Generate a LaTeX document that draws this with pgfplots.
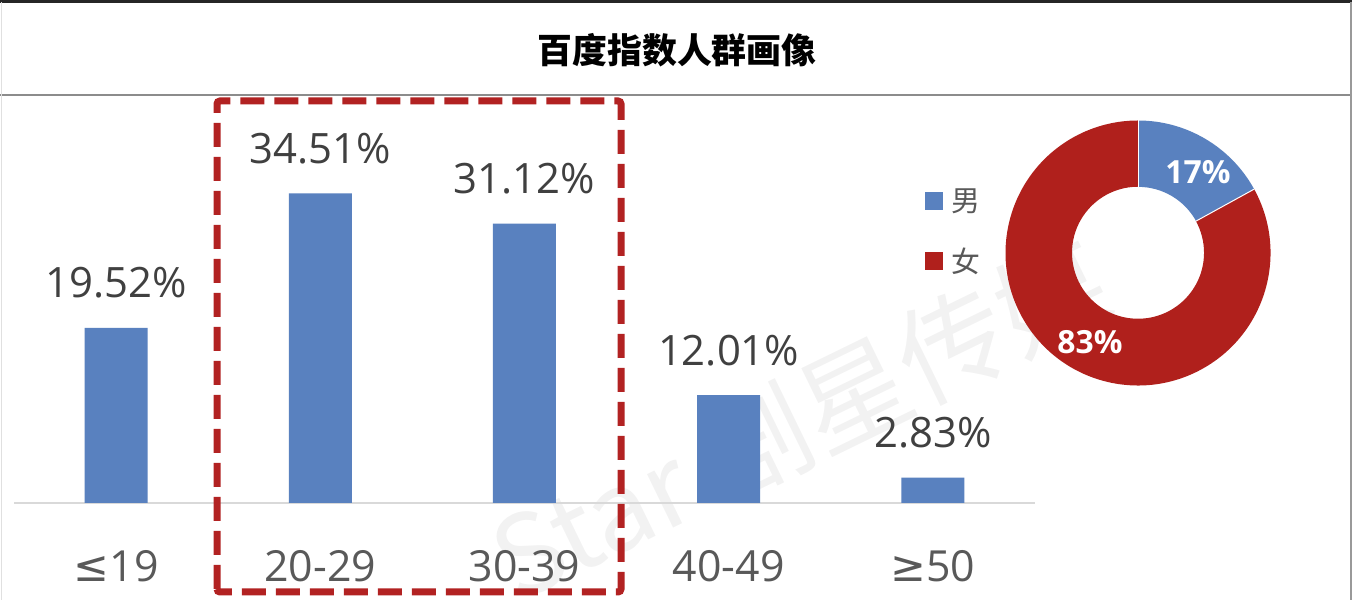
\documentclass[border=0pt]{standalone}
\usepackage{pgfplots}
\pgfplotsset{compat=1.18}
\usepackage{fontspec}
\setmainfont{Open Sans}
\newfontfamily\cjk{Noto Sans CJK SC}
\newfontfamily\dv{DejaVu Sans}

\definecolor{barblue}{RGB}{89,129,191}
\definecolor{donutred}{RGB}{176,32,28}
\definecolor{boxred}{RGB}{178,34,34}
\definecolor{valgray}{RGB}{64,64,64}
\definecolor{labgray}{RGB}{89,89,89}

% age groups, share in %
\pgfplotstableread{
idx share
0 19.52
1 34.51
2 31.12
3 12.01
4 2.83
}\agedata

% gender shares in %
\def\male{17}
\def\female{83}

\begin{document}
\begin{tikzpicture}[x=1bp,y=1bp]
\path[use as bounding box] (0,0) rectangle (1352,600);
\fill[white] (0,0) rectangle (1352,600);

% watermark
\node[rotate=26, opacity=0.05, text=black, font=\cjk\fontsize{110}{112}\selectfont]
  at (800,180) {\textit{Star} 剧星传媒};

% header
\draw[line width=3bp, black!85] (0,598.5) -- (1352,598.5);
\draw[line width=2bp, black!45] (0,505) -- (1352,505);
\draw[line width=1bp, black!12] (1.5,0) -- (1.5,598);
\draw[line width=2bp, black!40] (1350.5,0) -- (1350.5,598);
\node[font=\cjk\bfseries\fontsize{35}{40}\selectfont, text=black] at (677,550) {百度指数人群画像};

% bar chart
\begin{axis}[
  at={(14bp,97bp)}, anchor=south west,
  width=1021bp, height=359bp, scale only axis,
  xmin=-0.5, xmax=4.5, ymin=0, ymax=40,
  ybar, bar width=63bp,
  axis x line=bottom, hide y axis,
  x axis line style={draw=black!15, line width=2bp, -},
  xtick={0,1,2,3,4},
  xticklabels={{\dv ≤}19, 20-29, 30-39, 40-49, {\dv ≥}50},
  major tick length=0pt,
  xticklabel style={anchor=center, yshift=-63bp, text=labgray,
    font=\fontsize{43}{46}\selectfont},
  /pgf/number format/assume math mode=true,
  nodes near coords={\pgfmathprintnumber[fixed, fixed zerofill, precision=2]{\pgfplotspointmeta}\%},
  nodes near coords style={anchor=center, yshift=45bp, text=valgray,
    font=\fontsize{42}{46}\selectfont},
  clip=false,
]
\addplot[fill=barblue, draw=none] table[x=idx, y=share] {\agedata};
\end{axis}

% highlight box round 20-29 and 30-39
\draw[boxred, line width=7bp, dash pattern=on 24bp off 10bp, rounded corners=3bp]
  (217,8) rectangle (621,499);

% donut chart
\begin{axis}[
  at={(1138bp,347bp)}, anchor=center,
  width=265bp, height=265bp, scale only axis,
  xmin=-1, xmax=1, ymin=-1, ymax=1,
  hide axis, clip=false,
]
\pgfmathsetmacro{\a}{90-3.6*\male}
\fill[barblue] (axis cs:0,1) arc[start angle=90, end angle=\a, radius=132.5bp]
  -- (axis cs:{0.5*cos(\a)},{0.5*sin(\a)}) arc[start angle=\a, end angle=90, radius=66bp] -- cycle;
\fill[donutred] (axis cs:{cos(\a)},{sin(\a)}) arc[start angle=\a, end angle={\a-3.6*\female}, radius=132.5bp]
  -- (axis cs:0,0.5) arc[start angle=90, end angle={\a+360}, radius=66bp] -- cycle;
\draw[white, line width=1bp] (axis cs:0,0.5) -- (axis cs:0,1);
\draw[white, line width=1bp] (axis cs:{0.5*cos(\a)},{0.5*sin(\a)}) -- (axis cs:{cos(\a)},{sin(\a)});
\end{axis}
\node[text=white, font=\bfseries\fontsize{32}{36}\selectfont] at (1198,428) {\male\%};
\node[text=white, font=\bfseries\fontsize{32}{36}\selectfont] at (1090,258) {\female\%};

% legend
\fill[barblue] (925,390) rectangle (943,408);
\node[anchor=west, text=labgray, font=\cjk\fontsize{29}{32}\selectfont] at (948,399) {男};
\fill[donutred] (925,330) rectangle (943,348);
\node[anchor=west, text=labgray, font=\cjk\fontsize{29}{32}\selectfont] at (948,339) {女};
\end{tikzpicture}
\end{document}
